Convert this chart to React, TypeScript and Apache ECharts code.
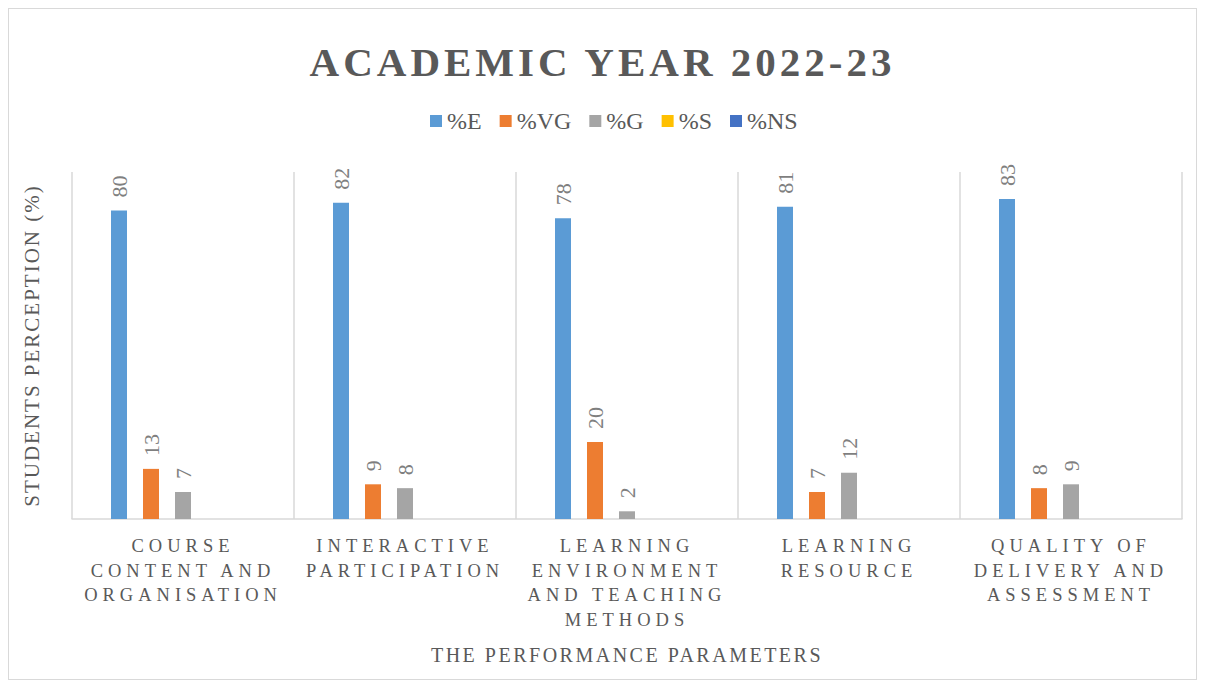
import React, { useEffect, useRef } from "react";
import * as echarts from "echarts";

const categories = [
  "COURSE\nCONTENT AND\nORGANISATION",
  "INTERACTIVE\nPARTICIPATION",
  "LEARNING\nENVIRONMENT\nAND TEACHING\nMETHODS",
  "LEARNING\nRESOURCE",
  "QUALITY OF\nDELIVERY AND\nASSESSMENT",
];
const seriesNames = ["%E", "%VG", "%G", "%S", "%NS"];
const valuesE = [80, 82, 78, 81, 83];
const valuesVG = [13, 9, 20, 7, 8];
const valuesG = [7, 8, 2, 12, 9];
const valuesS = [0, 0, 0, 0, 0];
const valuesNS = [0, 0, 0, 0, 0];
const colors = ["#5b9bd5", "#ed7d31", "#a5a5a5", "#ffc000", "#4472c4"];

const titleText = "ACADEMIC YEAR 2022-23";
const xName = "THE PERFORMANCE PARAMETERS";
const yName = "STUDENTS PERCEPTION (%)";

const FONT = "'Liberation Serif', 'Times New Roman', serif";
const FONT_S4 = "'Liberation Serif', XSpaceFour, serif";
const FONT_S45 = "'Liberation Serif', XSpaceCat, serif";
const FONT_S2 = "'Liberation Serif', XSpaceTwo, serif";
const FONT_SY = "'Liberation Serif', XSpaceY, serif";

const css = `
.chartbox text[style*="XSpaceFour"] { letter-spacing: 4px; }
.chartbox text[style*="XSpaceCat"] { letter-spacing: 5px; }
.chartbox text[style*="XSpaceTwo"] { letter-spacing: 2.5px; }
.chartbox text[style*="XSpaceY"] { letter-spacing: 2px; }
`;

export default function App() {
  const ref = useRef<HTMLDivElement>(null);
  useEffect(() => {
    if (!ref.current) return;
    const chart = echarts.init(ref.current, undefined, { renderer: "svg" });
    const allValues = [valuesE, valuesVG, valuesG, valuesS, valuesNS];
    chart.setOption({
      animation: false,
      color: colors,
      title: {
        text: titleText,
        left: "center",
        top: 27,
        textStyle: {
          fontFamily: FONT_S4,
          fontSize: 41,
          fontWeight: "bold",
          color: "#595959",
        },
      },
      legend: {
        top: 95,
        left: 416,
        itemWidth: 12,
        itemHeight: 12,
        itemGap: 18,
        icon: "rect",
        textStyle: { fontFamily: FONT, fontSize: 24, color: "#595959" },
        data: seriesNames,
      },
      grid: { left: 63, right: 14, top: 163, bottom: 160 },
      xAxis: {
        type: "category",
        data: categories,
        name: xName,
        nameLocation: "middle",
        nameGap: 126,
        nameTextStyle: { fontFamily: FONT_S2, fontSize: 20, color: "#595959" },
        axisLine: { lineStyle: { color: "#d9d9d9", width: 1.5 } },
        axisTick: { show: false },
        splitLine: { show: true, lineStyle: { color: "#d9d9d9", width: 1.5 } },
        axisLabel: {
          interval: 0,
          margin: 15,
          fontFamily: FONT_S45,
          fontSize: 18.5,
          lineHeight: 24.5,
          color: "#595959",
        },
      },
      yAxis: {
        type: "value",
        min: 0,
        max: 90,
        name: yName,
        nameLocation: "middle",
        nameGap: 30,
        nameTextStyle: { fontFamily: FONT_SY, fontSize: 21, color: "#595959" },
        axisLine: { show: false },
        axisTick: { show: false },
        axisLabel: { show: false },
        splitLine: { show: false },
      },
      series: seriesNames.map((name, i) => ({
        name,
        type: "bar",
        data: allValues[i],
        barWidth: 16,
        barGap: "100%",
        label: {
          show: true,
          position: "top",
          rotate: 90,
          align: "left",
          verticalAlign: "middle",
          distance: 13,
          fontFamily: FONT,
          fontSize: 22,
          color: "#7f7f7f",
          formatter: (p: any) => (p.value ? String(p.value) : ""),
        },
      })),
    });
    return () => chart.dispose();
  }, []);
  return (
    <>
      <style>{css}</style>
      <div
        ref={ref}
        className="chartbox"
        style={{
          width: 1189,
          height: 672,
          border: "1px solid #d9d9d9",
          boxSizing: "border-box",
          background: "#fff",
        }}
      />
    </>
  );
}
